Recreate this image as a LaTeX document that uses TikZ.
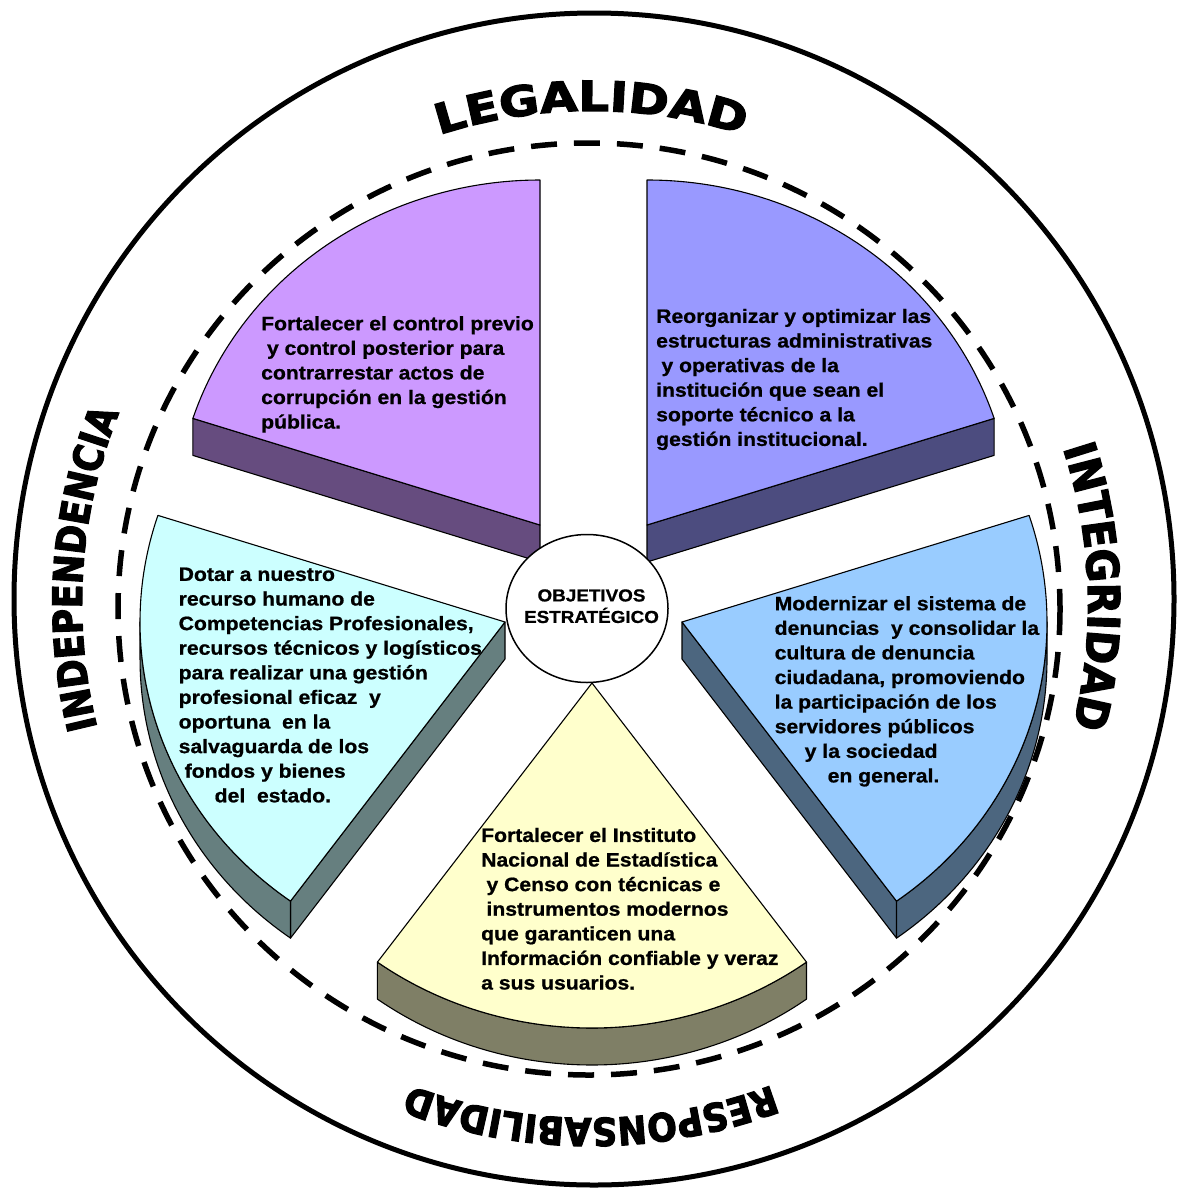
\documentclass[tikz,border=0pt]{standalone}
\usepackage{fontspec}
\usetikzlibrary{decorations.text,shapes.geometric}
\newfontfamily\tfont{Liberation Sans}[FakeStretch=1.09,FakeBold=0.9]
\newfontfamily\legfont{DejaVu Sans}[FakeStretch=1.17,FakeBold=3]
\newfontfamily\intfont{DejaVu Sans}[FakeStretch=0.92,FakeBold=3]
\newfontfamily\resfont{DejaVu Sans}[FakeStretch=0.9,FakeBold=3]
\newfontfamily\indfont{DejaVu Sans}[FakeStretch=0.86,FakeBold=3]
\newcommand\slicefont{\tfont\bfseries\fontsize{19.4}{24.6}\selectfont}
\newcommand\fstrut{\rule{0pt}{16pt}}
\newcommand\wLeg{\legfont\bfseries\fontsize{41.5}{41.5}\selectfont}
\newcommand\wInt{\intfont\bfseries\fontsize{44}{44}\selectfont}
\newcommand\wRes{\resfont\bfseries\fontsize{38.5}{38.5}\selectfont}
\newcommand\wInd{\indfont\bfseries\fontsize{40.5}{40.5}\selectfont}
\definecolor{atop}{HTML}{CC99FF}
\definecolor{aside}{HTML}{664C7F}
\definecolor{btop}{HTML}{9999FF}
\definecolor{bside}{HTML}{4C4C7F}
\definecolor{ctop}{HTML}{99CCFF}
\definecolor{cside}{HTML}{4C667F}
\definecolor{dtop}{HTML}{FFFFCC}
\definecolor{dside}{HTML}{7F7F66}
\definecolor{etop}{HTML}{CCFFFF}
\definecolor{eside}{HTML}{667F7F}
\begin{document}
\begin{tikzpicture}[x=1pt,y=-1pt,
  edge/.style={draw=black,line width=1.1pt,line join=round},
  slicetext/.style={anchor=north west,inner sep=0pt,align=left,font=\slicefont},
  ring/.style={draw=black,line width=5pt},
  dashring/.style={draw=black,line width=5.5pt,dash pattern=on 26pt off 17pt},
  word/.style={decorate,decoration={text along path,text align=center,text={#1}}}]
\useasboundingbox (0,0) rectangle (1176,1194);
\fill[white] (0,0) rectangle (1176,1194);
% rings
\draw[ring] (594,599) ellipse[x radius=580,y radius=586];
\draw[dashring] (589,609) ellipse[x radius=471,y radius=466];
% curved words
\begin{scope}[shift={(591,604)}]
  \path[word={|\wLeg|LEGALIDAD}] (-150:493) arc[start angle=-150,end angle=-30,radius=493];
  \path[word={|\wInt|INTEGRIDAD}] (-62:497) arc[start angle=-62,end angle=58,radius=497];
  \path[word={|\wRes|RESPONSABILIDAD}] (30:514) arc[start angle=30,end angle=150,radius=514];
  \path[word={|\wInd|INDEPENDENCIA}] (124:509) arc[start angle=124,end angle=244,radius=509];
\end{scope}
% slice 1: top-left
\filldraw[edge,fill=aside] (192.9,418.4) -- (540,525) -- (540,562) -- (192.9,455.4) -- cycle;
\filldraw[edge,fill=atop] (540,525) -- (192.9,418.4) arc[start angle=-162,end angle=-90,x radius=365,y radius=345] -- cycle;
% slice 2: top-right
\filldraw[edge,fill=bside] (647,525) -- (994.1,418.4) -- (994.1,455.4) -- (647,562) -- cycle;
\filldraw[edge,fill=btop] (647,525) -- (647,180) arc[start angle=-90,end angle=-18,x radius=365,y radius=345] -- cycle;
% slice 3: right
\filldraw[edge,fill=cside] (682,622) -- (896.5,901.1) -- (896.5,938.1) -- (682,659) -- cycle;
\filldraw[edge,fill=cside] (1047,622) arc[start angle=0,end angle=54,x radius=365,y radius=345] -- ++(0,37) arc[start angle=54,end angle=0,x radius=365,y radius=345] -- cycle;
\filldraw[edge,fill=ctop] (682,622) -- (1029.1,515.4) arc[start angle=-18,end angle=54,x radius=365,y radius=345] -- cycle;
% slice 4: bottom
\filldraw[edge,fill=dside] (806.5,962.1) arc[start angle=54,end angle=126,x radius=365,y radius=345] -- ++(0,37) arc[start angle=126,end angle=54,x radius=365,y radius=345] -- cycle;
\filldraw[edge,fill=dtop] (592,683) -- (806.5,962.1) arc[start angle=54,end angle=126,x radius=365,y radius=345] -- cycle;
% slice 5: left
\filldraw[edge,fill=eside] (505,622) -- (290.5,901.1) -- (290.5,938.1) -- (505,659) -- cycle;
\filldraw[edge,fill=eside] (290.5,901.1) arc[start angle=126,end angle=180,x radius=365,y radius=345] -- ++(0,37) arc[start angle=180,end angle=126,x radius=365,y radius=345] -- cycle;
\filldraw[edge,fill=etop] (505,622) -- (290.5,901.1) arc[start angle=126,end angle=198,x radius=365,y radius=345] -- cycle;
% centre
\node[draw,line width=1.5pt,ellipse,fill=white,minimum width=162pt,minimum height=148pt,inner sep=0pt] (obj) at (587,608.5) {};
\node[font=\tfont\bfseries\fontsize{17.3}{21.5}\selectfont,align=center,inner sep=0pt] (objtxt) at (591.5,606.2) {OBJETIVOS\\ESTRATÉGICO};
% slice texts
\node[slicetext] (t1) at (261,314) {\fstrut Fortalecer el control previo\\\hspace*{5.8pt}y control posterior para\\contrarrestar actos de\\corrupción en la gestión\\pública.};
\node[slicetext] (t2) at (656,306.7) {\fstrut Reorganizar y optimizar las\\estructuras administrativas\\\hspace*{5.3pt}y operativas de la\\institución que sean el\\soporte técnico a la\\gestión institucional.};
\node[slicetext] (t3) at (178.5,564.7) {\fstrut Dotar a nuestro\\recurso humano de\\Competencias Profesionales,\\recursos técnicos y logísticos\\para realizar una gestión\\profesional eficaz\ \ y\\oportuna\ \ en la\\salvaguarda de los\\\hspace*{6pt}fondos y bienes\\\hspace*{36pt}del\ \ estado.};
\node[slicetext] (t4) at (774.5,594) {\fstrut Modernizar el sistema de\\denuncias\ \ y consolidar la\\cultura de denuncia\\ciudadana, promoviendo\\la participación de los\\servidores públicos\\\hspace*{30pt}y la sociedad\\\hspace*{53pt}en general.};
\node[slicetext] (t5) at (481,825.7) {\fstrut Fortalecer el Instituto\\Nacional de Estadística\\\hspace*{5.3pt}y Censo con técnicas e\\\hspace*{5.3pt}instrumentos modernos\\que garanticen una\\Información confiable y veraz\\a sus usuarios.};
\end{tikzpicture}
\end{document}
